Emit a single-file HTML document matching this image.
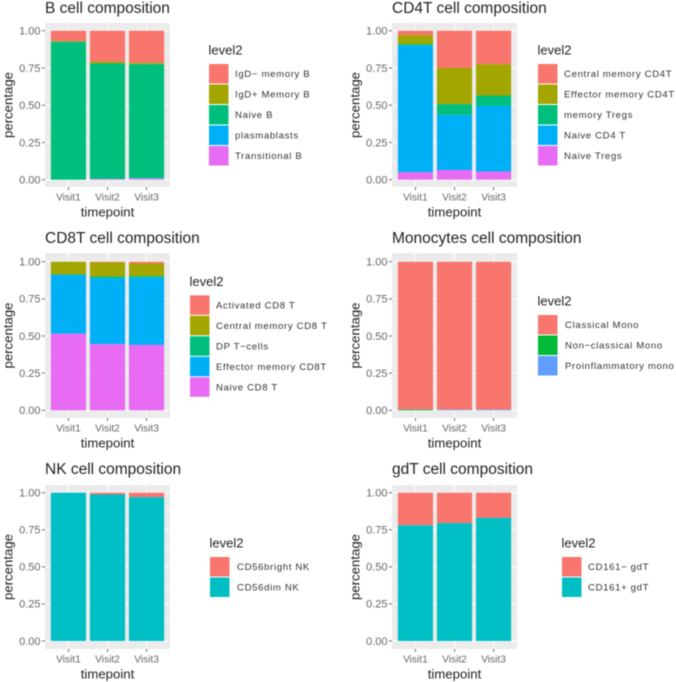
<!DOCTYPE html>
<html lang="en">
<head>
<meta charset="utf-8">
<title>Cell composition charts</title>
<style>
html,body{margin:0;padding:0;background:#fff;width:676px;height:682px;overflow:hidden}
svg{display:block;filter:blur(0.45px)}
text{font-family:"Liberation Sans",sans-serif}
</style>
</head>
<body>
<svg id="chart" xmlns="http://www.w3.org/2000/svg" width="676" height="682" viewBox="0 0 676 682"></svg>
<script>
const visits = ['Visit1', 'Visit2', 'Visit3'];
const tickValues = [0, 0.25, 0.5, 0.75, 1];
const tickLabels = ['0.00', '0.25', '0.50', '0.75', '1.00'];
const minorValues = [0.125, 0.375, 0.625, 0.875];

const hue5 = ['#F8766D', '#A3A500', '#00BF7D', '#00B0F6', '#E76BF3'];
const hue3 = ['#F8766D', '#00BA38', '#619CFF'];
const hue2 = ['#F8766D', '#00BFC4'];

const bTitle = 'B cell composition';
const bLevels = ['IgD\u2212 memory B', 'IgD+ Memory B', 'Naive B', 'plasmablasts', 'Transitional B'];
const bIgdNeg = [0.07, 0.208, 0.215];
const bIgdPos = [0.005, 0.012, 0.01];
const bNaive = [0.925, 0.775, 0.765];
const bPlasma = [0, 0, 0.003];
const bTrans = [0, 0.005, 0.007];

const cd4Title = 'CD4T cell composition';
const cd4Levels = ['Central memory CD4T', 'Effector memory CD4T', 'memory Tregs', 'Naive CD4 T', 'Naive Tregs'];
const cd4Central = [0.03, 0.25, 0.225];
const cd4Effector = [0.06, 0.243, 0.21];
const cd4Tregs = [0.01, 0.072, 0.07];
const cd4Naive = [0.85, 0.37, 0.44];
const cd4NaiveTregs = [0.05, 0.065, 0.055];

const cd8Title = 'CD8T cell composition';
const cd8Levels = ['Activated CD8 T', 'Central memory CD8 T', 'DP T\u2212cells', 'Effector memory CD8T', 'Naive CD8 T'];
const cd8Activated = [0, 0.005, 0.012];
const cd8Central = [0.085, 0.095, 0.085];
const cd8Dp = [0.005, 0.01, 0.01];
const cd8Effector = [0.395, 0.445, 0.453];
const cd8Naive = [0.515, 0.445, 0.44];

const monoTitle = 'Monocytes cell composition';
const monoLevels = ['Classical Mono', 'Non\u2212classical Mono', 'Proinflammatory mono'];
const monoClassical = [0.995, 0.995, 0.995];
const monoNon = [0.005, 0.001, 0.001];
const monoPro = [0, 0.004, 0.004];

const nkTitle = 'NK cell composition';
const nkLevels = ['CD56bright NK', 'CD56dim NK'];
const nkBright = [0, 0.012, 0.03];
const nkDim = [1, 0.988, 0.97];

const gdTitle = 'gdT cell composition';
const gdLevels = ['CD161\u2212 gdT', 'CD161+ gdT'];
const gdNeg = [0.22, 0.205, 0.17];
const gdPos = [0.78, 0.795, 0.83];

const svg = document.getElementById('chart');
const NS = 'http://www.w3.org/2000/svg';

function make(tag, props, parent, content) {
  const el = document.createElementNS(NS, tag);
  for (const k in props) el.setAttribute(k, props[k]);
  if (content !== undefined) el.textContent = content;
  parent.appendChild(el);
  return el;
}

function slug(s) {
  return s.toLowerCase().replace(/[^a-z0-9]+/g, '-').replace(/^-|-$/g, '');
}

function drawPanel(p) {
  const g = make('g', {}, svg);
  
  

  const unit = (p.right - p.left) / 3.2;
  const xScale = function (i) { return p.left + (i + 0.6) * unit; };
  const yScale = function (v) { return p.y0 + (p.y1 - p.y0) * v; };
  const barWidth = 0.9 * unit;

  const title = make('text', { x: p.left, y: p.titleY, 'font-size': 15.5, fill: '#222' }, g, p.title);
  
  

  const bg = make('rect', { x: p.left, y: p.top, width: p.right - p.left, height: p.bottom - p.top, fill: '#EBEBEB' }, g);
  
  

  minorValues.forEach(function (v) {
    const line = make('line', { x1: p.left, x2: p.right, y1: yScale(v), y2: yScale(v), stroke: '#fff', 'stroke-width': 0.5 }, g);
    
    
  });
  tickValues.forEach(function (v, i) {
    const line = make('line', { x1: p.left, x2: p.right, y1: yScale(v), y2: yScale(v), stroke: '#fff', 'stroke-width': 1 }, g);
    
    
    const tick = make('line', { x1: p.left - 3, x2: p.left, y1: yScale(v), y2: yScale(v), stroke: '#444', 'stroke-width': 0.8 }, g);
    
    
    const label = make('text', { x: p.left - 4.5, y: yScale(v) + 3.8, 'font-size': 11, 'text-anchor': 'end', fill: '#666' }, g, tickLabels[i]);
    
    
  });
  visits.forEach(function (name, i) {
    const line = make('line', { x1: xScale(i), x2: xScale(i), y1: p.top, y2: p.bottom, stroke: '#fff', 'stroke-width': 1 }, g);
    
    
    const tick = make('line', { x1: xScale(i), x2: xScale(i), y1: p.bottom, y2: p.bottom + 3, stroke: '#444', 'stroke-width': 0.8 }, g);
    
    
    const label = make('text', { x: xScale(i), y: p.bottom + 13.3, 'font-size': 10.2, 'text-anchor': 'middle', fill: '#666' }, g, name);
    
    
  });

  visits.forEach(function (name, i) {
    let top = 1;
    p.series.forEach(function (values, s) {
      const v = values[i];
      const bottom = top - v;
      if (v > 0) {
        const bar = make('rect', { x: xScale(i) - barWidth / 2, y: yScale(top), width: barWidth, height: Math.max(yScale(bottom) - yScale(top), 0), fill: p.colors[s] }, g);
        
        
      }
      top = bottom;
    });
  });

  const xTitle = make('text', { x: (p.left + p.right) / 2, y: p.bottom + 29.5, 'font-size': 13.2, 'text-anchor': 'middle', fill: '#222' }, g, 'timepoint');
  
  

  const yMid = (p.top + p.bottom) / 2;
  const yTitle = make('text', { x: 0, y: 0, transform: 'translate(' + (p.left - 32.5) + ' ' + yMid + ') rotate(-90)', 'font-size': 13.2, 'text-anchor': 'middle', fill: '#222' }, g, 'percentage');
  
  

  const legendTitle = make('text', { x: p.legendX - 0.5, y: p.legendTop - 9.3, 'font-size': 13, fill: '#222' }, g, 'level2');
  
  

  p.levels.forEach(function (name, i) {
    const keyTop = p.legendTop + i * 20.5;
    const key = make('rect', { x: p.legendX, y: keyTop, width: 19.5, height: 19.5, fill: p.colors[i] }, g);
    
    
    const label = make('text', { x: p.labelX, y: keyTop + 13, 'font-size': 9.6, 'letter-spacing': 0.65, fill: '#333' }, g, name);
    
    
  });
}

drawPanel({ key: 'b-cell', title: bTitle, levels: bLevels, colors: hue5,
  series: [bIgdNeg, bIgdPos, bNaive, bPlasma, bTrans],
  left: 45, right: 170, top: 23, bottom: 187, y1: 30.7, y0: 179.7, titleY: 13,
  legendX: 209, labelX: 235, legendTop: 64 });
drawPanel({ key: 'cd4t-cell', title: cd4Title, levels: cd4Levels, colors: hue5,
  series: [cd4Central, cd4Effector, cd4Tregs, cd4Naive, cd4NaiveTregs],
  left: 392, right: 517, top: 23, bottom: 187, y1: 30.7, y0: 179.7, titleY: 13,
  legendX: 538, labelX: 564, legendTop: 64 });
drawPanel({ key: 'cd8t-cell', title: cd8Title, levels: cd8Levels, colors: hue5,
  series: [cd8Activated, cd8Central, cd8Dp, cd8Effector, cd8Naive],
  left: 45, right: 170, top: 253, bottom: 418, y1: 261.7, y0: 410.3, titleY: 243,
  legendX: 190, labelX: 216, legendTop: 295.3 });
drawPanel({ key: 'monocytes-cell', title: monoTitle, levels: monoLevels, colors: hue3,
  series: [monoClassical, monoNon, monoPro],
  left: 392, right: 517, top: 253, bottom: 418, y1: 261.7, y0: 410.3, titleY: 243,
  legendX: 538, labelX: 565, legendTop: 315 });
drawPanel({ key: 'nk-cell', title: nkTitle, levels: nkLevels, colors: hue2,
  series: [nkBright, nkDim],
  left: 45, right: 170, top: 485, bottom: 649, y1: 492.7, y0: 641, titleY: 474,
  legendX: 210, labelX: 237, legendTop: 557 });
drawPanel({ key: 'gdt-cell', title: gdTitle, levels: gdLevels, colors: hue2,
  series: [gdNeg, gdPos],
  left: 392, right: 517, top: 485, bottom: 649, y1: 492.7, y0: 641, titleY: 474,
  legendX: 562, labelX: 588, legendTop: 557 });
</script>
</body>
</html>
